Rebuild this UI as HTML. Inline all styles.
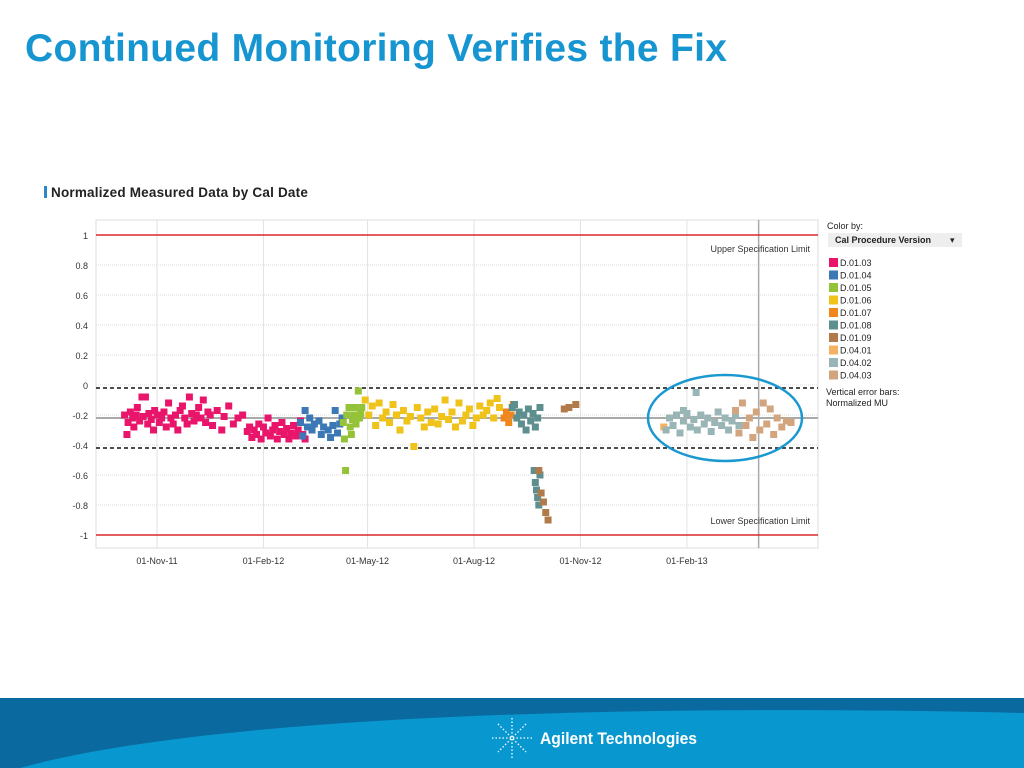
<!DOCTYPE html>
<html><head><meta charset="utf-8">
<style>
body{margin:0;width:1024px;height:768px;background:#fff;overflow:hidden;font-family:"Liberation Sans",sans-serif;position:relative}
#title{position:absolute;left:25px;top:27px;font-size:39px;font-weight:bold;color:#1795d0;letter-spacing:0.3px}
#ctitle{position:absolute;left:44px;top:185px;font-size:13.5px;color:#222;font-weight:bold;letter-spacing:0.2px}
#ctitle span{display:inline-block;width:3px;height:12px;background:#2a87c8;margin-right:4px;vertical-align:-1px}
svg text{font-family:"Liberation Sans",sans-serif}
</style></head><body>
<div id="title">Continued Monitoring Verifies the Fix</div>
<div id="ctitle"><span></span>Normalized Measured Data by Cal Date</div>
<svg id="chart" width="1024" height="768" style="position:absolute;left:0;top:0"></svg>
<svg width="1024" height="70" style="position:absolute;left:0;top:698px">
<rect width="1024" height="70" fill="#0a6aa0"/>
<path d="M20 70 C200 20 600 5 1024 15 L1024 70 Z" fill="#0898cf"/>
<g stroke="#fff" stroke-width="1.3" stroke-dasharray="1.5 2">
<line x1="512" y1="20" x2="512" y2="60"/><line x1="492" y1="40" x2="532" y2="40"/><line x1="498" y1="26" x2="526" y2="54"/><line x1="526" y1="26" x2="498" y2="54"/></g>
<text x="540" y="46" fill="#fff" font-size="17" font-weight="bold" textLength="157" lengthAdjust="spacingAndGlyphs">Agilent Technologies</text>
</svg>
<script>
const yTicks=[1,0.8,0.6,0.4,0.2,0,-0.2,-0.4,-0.6,-0.8,-1];
const xTickDays=[0,92,182,274,366,458];
const xTickLabels=["01-Nov-11","01-Feb-12","01-May-12","01-Aug-12","01-Nov-12","01-Feb-13"];
const upperSpec=1, lowerSpec=-1, meanVal=-0.22, upperCtl=-0.02, lowerCtl=-0.42, refLineDay=520;
const seriesNames=["D.01.03","D.01.04","D.01.05","D.01.06","D.01.07","D.01.08","D.01.09","D.04.01","D.04.02","D.04.03"];
const seriesColors=["#e8156b","#3b78b5","#94c33a","#efc31a","#f0861c","#5e8f8f","#b07a4a","#f6b062","#9ab5b5","#d3a57f"];
const d0Days=[-28,-26,-25,-23,-21,-20,-18,-17,-15,-13,-12,-10,-8,-7,-5,-3,-2,0,2,4,6,8,10,12,14,16,18,20,22,24,26,28,30,32,34,36,38,40,42,44,46,48,52,56,58,62,66,70,74,78,80,82,84,86,88,90,92,94,96,98,100,102,104,106,108,110,112,114,116,118,120,122,124,126,128];
const d0Vals=[-0.2,-0.33,-0.25,-0.18,-0.22,-0.28,-0.2,-0.15,-0.24,-0.08,-0.21,-0.08,-0.26,-0.19,-0.23,-0.3,-0.17,-0.2,-0.25,-0.22,-0.18,-0.28,-0.12,-0.22,-0.26,-0.2,-0.3,-0.17,-0.14,-0.22,-0.26,-0.08,-0.19,-0.24,-0.2,-0.15,-0.22,-0.1,-0.25,-0.18,-0.2,-0.27,-0.17,-0.3,-0.21,-0.14,-0.26,-0.22,-0.2,-0.31,-0.28,-0.35,-0.3,-0.33,-0.26,-0.36,-0.28,-0.32,-0.22,-0.34,-0.3,-0.27,-0.36,-0.31,-0.25,-0.33,-0.29,-0.36,-0.32,-0.27,-0.34,-0.3,-0.24,-0.33,-0.36];
const d1Days=[124,126,128,130,132,134,136,140,142,144,148,150,152,154,156,158,160];
const d1Vals=[-0.25,-0.34,-0.17,-0.28,-0.22,-0.3,-0.26,-0.24,-0.33,-0.28,-0.3,-0.35,-0.27,-0.17,-0.32,-0.26,-0.22];
const d2Days=[161,162,163,164,166,167,168,169,170,171,172,174,175,176,177];
const d2Vals=[-0.25,-0.36,-0.57,-0.2,-0.15,-0.28,-0.33,-0.23,-0.2,-0.15,-0.26,-0.04,-0.22,-0.19,-0.15];
const d3Days=[180,183,186,189,192,195,198,201,204,207,210,213,216,219,222,225,228,231,234,237,240,243,246,249,252,255,258,261,264,267,270,273,276,279,282,285,288,291,294,296];
const d3Vals=[-0.1,-0.2,-0.14,-0.27,-0.12,-0.22,-0.18,-0.25,-0.13,-0.2,-0.3,-0.17,-0.24,-0.21,-0.41,-0.15,-0.22,-0.28,-0.18,-0.25,-0.16,-0.26,-0.21,-0.1,-0.23,-0.18,-0.28,-0.12,-0.24,-0.2,-0.16,-0.27,-0.22,-0.14,-0.2,-0.17,-0.12,-0.22,-0.09,-0.15];
const d4Days=[300,302,304,306,308];
const d4Vals=[-0.22,-0.18,-0.25,-0.2,-0.13];
const d5Days=[307,309,311,313,315,317,319,321,323,325,327,329,331,326,327,328,329,330,331];
const d5Vals=[-0.15,-0.13,-0.22,-0.18,-0.26,-0.2,-0.3,-0.16,-0.24,-0.19,-0.28,-0.22,-0.15,-0.57,-0.65,-0.7,-0.75,-0.8,-0.6];
const d6Days=[330,332,334,336,338,352,356,362];
const d6Vals=[-0.57,-0.72,-0.78,-0.85,-0.9,-0.16,-0.15,-0.13];
const d7Days=[438];
const d7Vals=[-0.28];
const d8Days=[440,443,446,449,452,455,458,461,464,467,470,473,476,479,482,485,488,491,494,497,500,503,466,455];
const d8Vals=[-0.3,-0.22,-0.27,-0.2,-0.32,-0.24,-0.19,-0.28,-0.23,-0.3,-0.2,-0.26,-0.22,-0.31,-0.25,-0.18,-0.27,-0.22,-0.3,-0.24,-0.2,-0.27,-0.05,-0.17];
const d9Days=[500,503,506,509,512,515,518,521,524,527,530,533,536,540,544,548];
const d9Vals=[-0.17,-0.32,-0.12,-0.27,-0.22,-0.35,-0.18,-0.3,-0.12,-0.26,-0.16,-0.33,-0.22,-0.28,-0.24,-0.25];
const seriesDays=[d0Days,d1Days,d2Days,d3Days,d4Days,d5Days,d6Days,d7Days,d8Days,d9Days];
const seriesVals=[d0Vals,d1Vals,d2Vals,d3Vals,d4Vals,d5Vals,d6Vals,d7Vals,d8Vals,d9Vals];

const NS="http://www.w3.org/2000/svg";
const svg=document.getElementById('chart');
const X=d=>157+d*1.157;
const Y=v=>385-v*150;
function mk(t,a,p){const e=document.createElementNS(NS,t);for(const k in a)e.setAttribute(k,a[k]);(p||svg).appendChild(e);return e;}
const pl=mk('rect',{x:96,y:220,width:722,height:328,fill:'none',stroke:'#ddd'});


yTicks.forEach(v=>{
 const g=mk('line',{x1:96,x2:818,y1:Y(v),y2:Y(v),stroke:'#ddd','stroke-dasharray':'1 1'});
 
 
 const t=mk('text',{x:88,y:Y(v)+4,'font-size':9,'text-anchor':'end',fill:'#333'});t.textContent=v;
 
 
});
xTickDays.forEach((d,i)=>{
 const g=mk('line',{x1:X(d),x2:X(d),y1:220,y2:548,stroke:'#e2e2e2'});
 
 
 const t=mk('text',{x:X(d),y:564,'font-size':9,'text-anchor':'middle',fill:'#333'});t.textContent=xTickLabels[i];
 
 
});
let e;
e=mk('line',{x1:X(refLineDay),x2:X(refLineDay),y1:220,y2:548,stroke:'#aaa','stroke-width':1.5});


e=mk('line',{x1:96,x2:818,y1:Y(meanVal),y2:Y(meanVal),stroke:'#aaa','stroke-width':2});


[upperCtl,lowerCtl].forEach(v=>{
 e=mk('line',{x1:96,x2:818,y1:Y(v),y2:Y(v),stroke:'#111','stroke-width':1.5,'stroke-dasharray':'4 3'});
 
 
});
[upperSpec,lowerSpec].forEach(v=>{
 e=mk('line',{x1:96,x2:818,y1:Y(v),y2:Y(v),stroke:'#d9282b','stroke-width':1.5});
 
 
});
e=mk('text',{x:810,y:Y(upperSpec)+17,'font-size':9,'text-anchor':'end',fill:'#333'});e.textContent='Upper Specification Limit';


e=mk('text',{x:810,y:Y(lowerSpec)-11,'font-size':9,'text-anchor':'end',fill:'#333'});e.textContent='Lower Specification Limit';


seriesDays.forEach((ds,s)=>{
 ds.forEach((d,i)=>{
  const r=mk('rect',{x:X(d)-3.5,y:Y(seriesVals[s][i])-3.5,width:7,height:7,fill:seriesColors[s]});
  
  
 });
});
e=mk('ellipse',{cx:725,cy:418,rx:77,ry:43,fill:'none',stroke:'#1a98d0','stroke-width':2.5});


e=mk('text',{x:827,y:229,'font-size':9,fill:'#222'});e.textContent='Color by:';


e=mk('rect',{x:828,y:233,width:134,height:14,fill:'#eee'});


e=mk('text',{x:835,y:243,'font-size':9,'font-weight':'bold',fill:'#222'});e.textContent='Cal Procedure Version';


e=mk('text',{x:950,y:243,'font-size':9,fill:'#222'});e.textContent='\u25BE';


seriesNames.forEach((n,i)=>{
 const y=258+i*12.5;
 const r=mk('rect',{x:829,y:y,width:9,height:9,fill:seriesColors[i]});
 
 
 const t=mk('text',{x:840,y:y+8,'font-size':9,fill:'#222'});t.textContent=n;
 
 
});
e=mk('text',{x:826,y:395,'font-size':9,fill:'#222'});e.textContent='Vertical error bars:';


e=mk('text',{x:826,y:406,'font-size':9,fill:'#222'});e.textContent='Normalized MU';


</script>
</body></html>
